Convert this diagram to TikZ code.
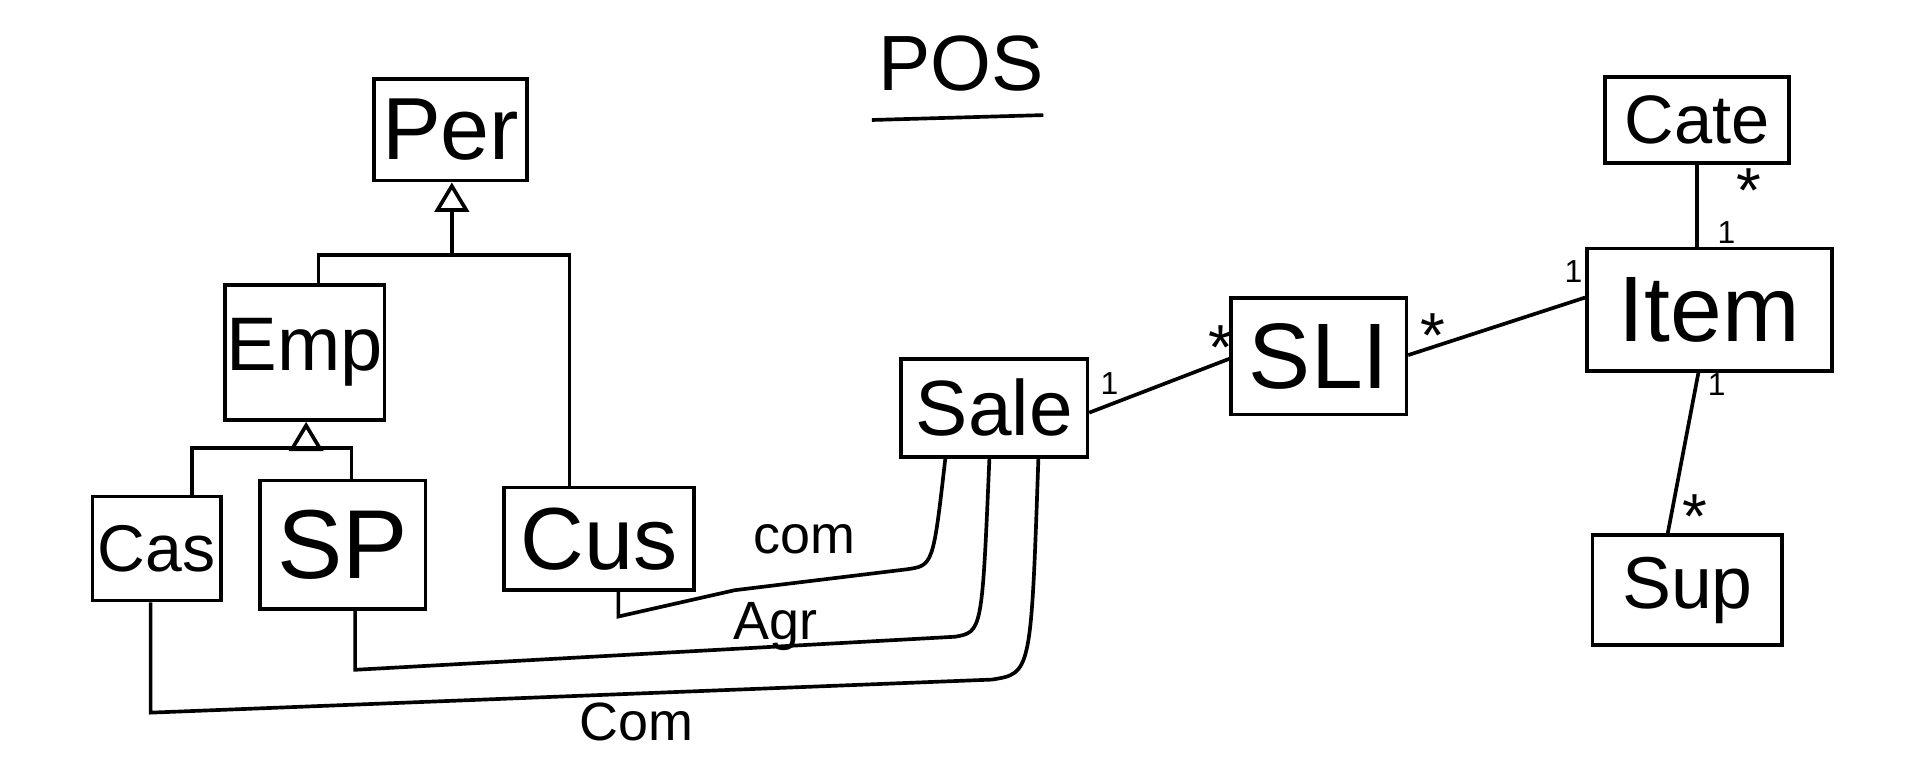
\documentclass[tikz,border=0pt]{standalone}
\usepackage{fontspec}
\setmainfont{Liberation Sans}
\usetikzlibrary{arrows.meta,calc}
\begin{document}
\begin{tikzpicture}[x=0.5pt,y=-0.5pt,line width=1.5pt,
  cls/.style={draw,rectangle,inner sep=0pt,minimum width=0.5pt*#1},
  ht/.style={minimum height=0.5pt*#1},
  inh/.style={-{Triangle[open,length=12pt,width=14pt]}},
  one/.style={font=\fontsize{13}{13}\selectfont,inner sep=1pt},
  many/.style={font=\fontsize{26}{26}\selectfont,inner sep=1pt},
  rolelbl/.style={font=\fontsize{22}{22}\selectfont,inner sep=1pt}]
\useasboundingbox (0,0) rectangle (1568,630);

% title
\node[font=\fontsize{32}{32}\selectfont] (title) at (785,52) {POS};
\coordinate (ulA) at (712,98);
\coordinate (ulB) at (852,94);
\draw (ulA) -- (ulB);

% classes
\node[cls=125,ht=83,font=\fontsize{36}{36}\selectfont] (per) at (368,106) {Per};
\node[cls=130,ht=110,font=\fontsize{31}{31}\selectfont] (emp) at (249,288) {Emp};
\node[cls=105,ht=85,font=\fontsize{27}{27}\selectfont] (cas) at (128,448) {Cas};
\node[cls=135,ht=105,font=\fontsize{40}{40}\selectfont] (sp) at (280,445) {SP};
\node[cls=155,ht=84,font=\fontsize{36}{36}\selectfont] (cus) at (489,440) {Cus};
\node[cls=152,ht=80,font=\fontsize{32}{32}\selectfont] (sale) at (812,333) {Sale};
\node[cls=143,ht=95,font=\fontsize{38}{38}\selectfont] (sli) at (1077,291) {SLI};
\node[cls=200,ht=100,font=\fontsize{38}{38}\selectfont] (item) at (1396,253) {Item};
\node[cls=150,ht=70,font=\fontsize{28}{28}\selectfont] (cate) at (1386,98) {Cate};
\node[cls=155,ht=90,font=\fontsize{30}{30}\selectfont] (sup) at (1378,482) {Sup};

% generalisation: Emp and Cus under Per
\coordinate (j1) at (369,208);
\draw[inh] (j1) -- (per.south -| j1);
\draw ($(emp.north)+(11,0)$) |- (j1) -| ($(cus.north)+(-24,0)$);

% generalisation: Cas and SP under Emp
\coordinate (j2) at (250,366);
\draw[inh] (j2) -- (emp.south -| j2);
\draw ($(cas.north)+(29,0)$) |- (j2) -| ($(sp.north)+(7,0)$);

% associations to Sale
\draw ($(cus.south)+(16,0)$) -- ++(0,20) -- (600,482) -- (740,465)
  .. controls (762,462) .. ($(sale.south)+(-40,0)$);
\draw ($(sp.south)+(10,0)$) -- ++(0,48) -- (780,520)
  .. controls (802,516) .. ($(sale.south)+(-4,0)$);
\draw ($(cas.south)+(-5,0)$) -- ++(0,90) -- (810,555)
  .. controls (842,550) .. ($(sale.south)+(36,0)$);
\node[rolelbl] (lcom) at (657,440) {com};
\node[rolelbl] (lagr) at (633,512) {Agr};
\node[rolelbl] (lCom) at (520,590) {Com};

% Sale -- SLI -- Item
\draw ($(sale.east)+(0,4)$) -- ($(sli.west)+(0,2)$);
\node[one] (m1) at (906,313) {1};
\node[many] (m2) at (997,284) {*};
\draw ($(sli.east)+(0,-1)$) -- ($(item.west)+(0,-10)$);
\node[many] (m3) at (1170,274) {*};
\node[one] (m4) at (1285,222) {1};

% Cate -- Item
\draw (cate.south) -- (item.north -| cate.south);
\node[many] (m5) at (1428,156) {*};
\node[one] (m6) at (1410,190) {1};

% Item -- Sup
\draw ($(item.south)+(-9,0)$) -- ($(sup.north)+(-16,0)$);
\node[one] (m7) at (1402,314) {1};
\node[many] (m8) at (1384,422) {*};
\end{tikzpicture}
\end{document}
